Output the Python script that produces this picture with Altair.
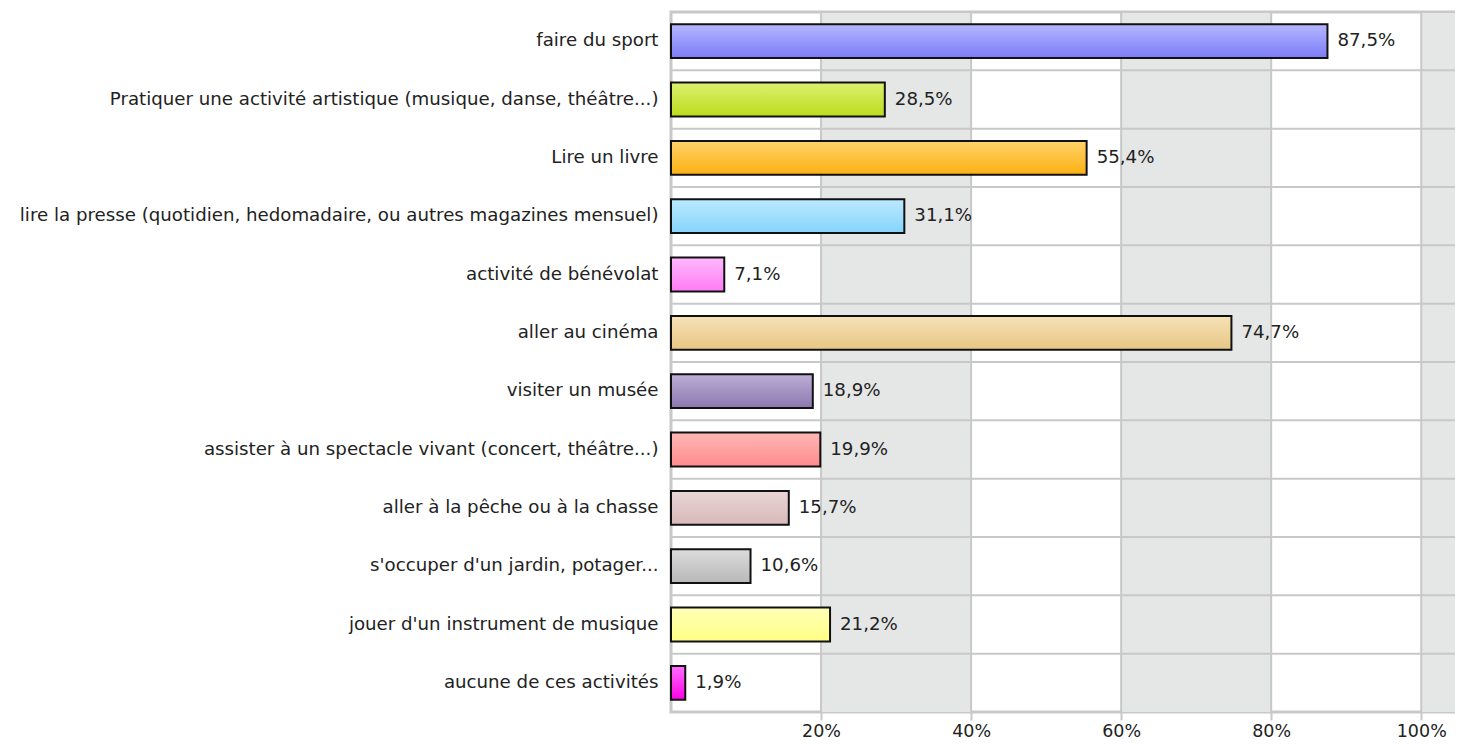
import altair as alt
import pandas as pd

categories = [
    "faire du sport",
    "Pratiquer une activité artistique (musique, danse, théâtre...)",
    "Lire un livre",
    "lire la presse (quotidien, hedomadaire, ou autres magazines mensuel)",
    "activité de bénévolat",
    "aller au cinéma",
    "visiter un musée",
    "assister à un spectacle vivant (concert, théâtre...)",
    "aller à la pêche ou à la chasse",
    "s'occuper d'un jardin, potager...",
    "jouer d'un instrument de musique",
    "aucune de ces activités",
]
values = [87.5, 28.5, 55.4, 31.1, 7.1, 74.7, 18.9, 19.9, 15.7, 10.6, 21.2, 1.9]
top_colors = ["#b4b6ff", "#dcf070", "#ffd36a", "#bce9ff", "#ffb8ff", "#f5e2b8",
              "#bcaed6", "#ffb6b6", "#ead6d6", "#dcdcdc", "#ffffb8", "#ff70ff"]
bottom_colors = ["#7c7cf8", "#bcdc1c", "#fbb010", "#84d4fc", "#ff7cf4", "#e8c684",
                 "#8c78b0", "#ff8c8c", "#d8b8b8", "#b8b8b8", "#ffff84", "#ff00e4"]
tick_values = [20, 40, 60, 80, 100]
shade_start = [20, 60, 100]
shade_end = [40, 80, 104.5]
x_max = 104.5

labels = [f"{v:.1f}%".replace(".", ",") for v in values]
df = pd.DataFrame({"cat": categories, "value": values, "label": labels})
shade_df = pd.DataFrame({"start": shade_start, "end": shade_end})
tick_df = pd.DataFrame({"t": tick_values})

W, H = 784, 700
FONT = "DejaVu Sans"
GRID = "#c8c8c8"

x_scale = alt.Scale(domain=[0, x_max], nice=False, zero=True)
y_scale = alt.Scale(domain=categories, paddingInner=0, paddingOuter=0)
x_axis = alt.Axis(values=tick_values, labelExpr="datum.value + '%'", tickSize=8,
                  tickColor=GRID, tickWidth=2, domain=False, grid=False,
                  labelPadding=2, labelFontSize=17.5, labelFont=FONT,
                  labelColor="#222", title=None)
y_axis = alt.Axis(ticks=False, domain=False, grid=False, labelPadding=13,
                  labelFontSize=18.2, labelFont=FONT, labelColor="#222",
                  labelLimit=700, title=None)

shade = alt.Chart(shade_df).mark_rect(color="#e5e7e7").encode(
    x=alt.X("start:Q", scale=x_scale, axis=x_axis),
    x2="end:Q",
    y=alt.value(0),
    y2=alt.value(H),
)

vgrid = alt.Chart(tick_df).mark_rule(color=GRID, strokeWidth=2).encode(
    x=alt.X("t:Q", scale=x_scale, axis=x_axis),
    y=alt.value(0),
    y2=alt.value(H),
)

hgrid = alt.Chart(df).mark_rule(color=GRID, strokeWidth=2, yOffset=-H / len(categories) / 2).encode(
    y=alt.Y("cat:N", scale=y_scale, axis=y_axis, sort=categories),
    x=alt.value(0),
    x2=alt.value(W),
)

bar_layers = []
for cat, c1, c2 in zip(categories, top_colors, bottom_colors):
    grad = alt.Gradient(gradient="linear",
                        stops=[alt.GradientStop(color=c1, offset=0),
                               alt.GradientStop(color=c2, offset=1)],
                        x1=0, x2=0, y1=0, y2=1)
    layer = alt.Chart(df).transform_filter(
        alt.datum.cat == cat
    ).mark_bar(fill=grad, stroke="#111", strokeWidth=2,
               height=alt.RelativeBandSize(0.58)).encode(
        x=alt.X("value:Q", scale=x_scale, axis=x_axis),
        y=alt.Y("cat:N", scale=y_scale, axis=y_axis, sort=categories),
    )
    bar_layers.append(layer)

text = alt.Chart(df).mark_text(align="left", baseline="middle", dx=10,
                               fontSize=18.2, font=FONT, color="#222").encode(
    x=alt.X("value:Q", scale=x_scale, axis=x_axis),
    y=alt.Y("cat:N", scale=y_scale, axis=y_axis, sort=categories),
    text="label:N",
)

chart = alt.layer(shade, vgrid, hgrid, *bar_layers, text).properties(
    width=W, height=H,
    autosize=alt.AutoSizeParams(type="none"),
    padding={"left": 663, "top": 4, "right": 0, "bottom": 29},
).configure_view(stroke=GRID, strokeWidth=3)

chart.save("out.html", embed_options={"renderer": "svg", "actions": False})
